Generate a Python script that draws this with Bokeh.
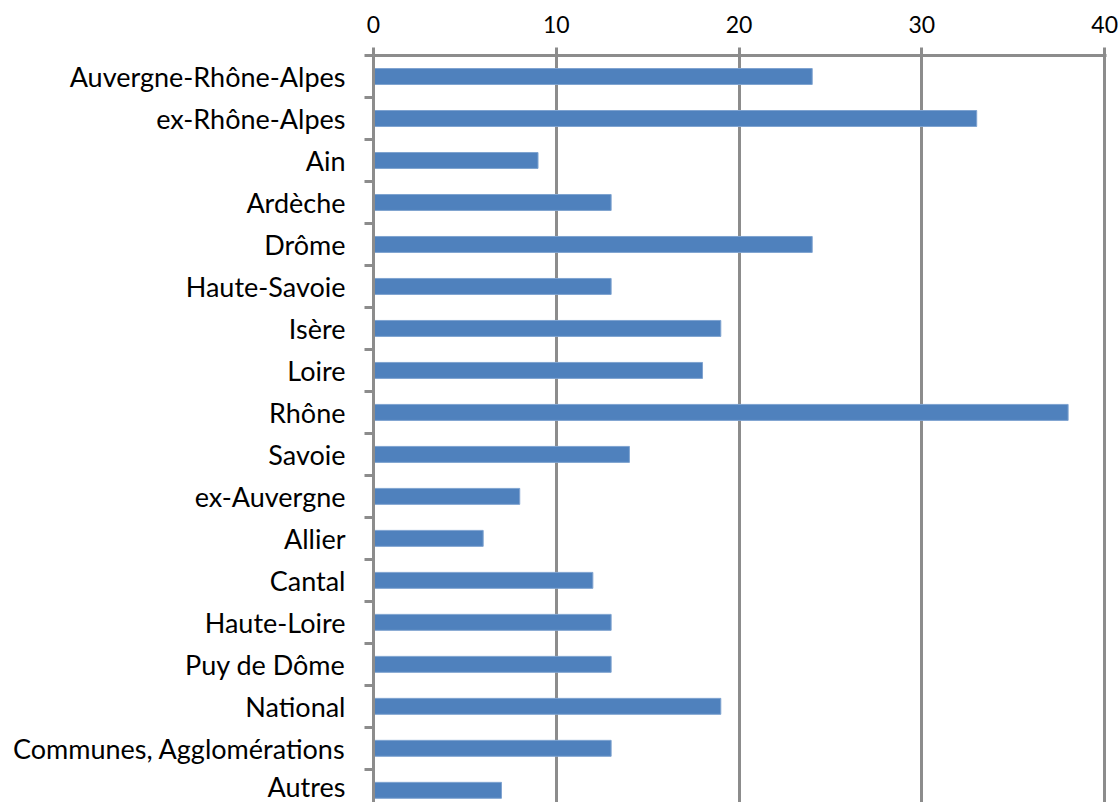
from bokeh.plotting import figure
from bokeh.models import Range1d, FixedTicker
from bokeh.embed import file_html
from bokeh.resources import INLINE

categories = ["Auvergne-Rhône-Alpes", "ex-Rhône-Alpes", "Ain", "Ardèche", "Drôme",
              "Haute-Savoie", "Isère", "Loire", "Rhône", "Savoie", "ex-Auvergne",
              "Allier", "Cantal", "Haute-Loire", "Puy de Dôme", "National",
              "Communes, Agglomérations", "Autres"]
values = [24, 33, 9, 13, 24, 13, 19, 18, 38, 14, 8, 6, 12, 13, 13, 19, 13, 7]
x_ticks = [0, 10, 20, 30, 40]

n = len(categories)
centers = [n - 1 - i + 0.5 for i in range(n)]
boundaries = list(range(n + 1))

FONT = "Lato"
GRAY = "#8C8C8C"

p = figure(width=1118, height=802, output_backend="svg", toolbar_location=None,
           x_range=Range1d(0, 40.1), y_range=Range1d(0.21, n),
           x_axis_location="above", min_border_left=373, min_border_right=12,
           min_border_top=55, min_border_bottom=0)
p.outline_line_color = None
p.background_fill_color = "white"
p.border_fill_color = "white"

p.hbar(y=centers, right=values, left=0, height=0.38,
       fill_color="#4F81BD", line_color="#7FA3D0", line_width=1)

# x axis (top)
xa = p.xaxis[0]
xa.ticker = FixedTicker(ticks=x_ticks, minor_ticks=[])
xa.axis_line_color = GRAY
xa.axis_line_width = 3
xa.major_tick_line_color = GRAY
xa.major_tick_line_width = 3
xa.major_tick_out = 8
xa.major_tick_in = 0
xa.major_label_standoff = 15
xa.major_label_text_font = FONT
xa.major_label_text_font_size = "23px"
xa.major_label_text_color = "black"

# y axis (left)
ya = p.yaxis[0]
ya.ticker = FixedTicker(ticks=centers, minor_ticks=boundaries)
ya.major_label_overrides = {c: lab for c, lab in zip(centers, categories)}
ya.axis_line_color = GRAY
ya.axis_line_width = 3
ya.major_tick_line_color = None
ya.major_tick_out = 0
ya.major_tick_in = 0
ya.minor_tick_line_color = GRAY
ya.minor_tick_line_width = 3
ya.minor_tick_out = 9
ya.minor_tick_in = 0
ya.major_label_standoff = 19
ya.major_label_text_font = FONT
ya.major_label_text_font_size = "27px"
ya.major_label_text_color = "black"

p.xgrid.ticker = FixedTicker(ticks=x_ticks)
p.xgrid.grid_line_color = GRAY
p.xgrid.grid_line_width = 3
p.ygrid.grid_line_color = None

open("out.html", "w").write(file_html(p, INLINE))
